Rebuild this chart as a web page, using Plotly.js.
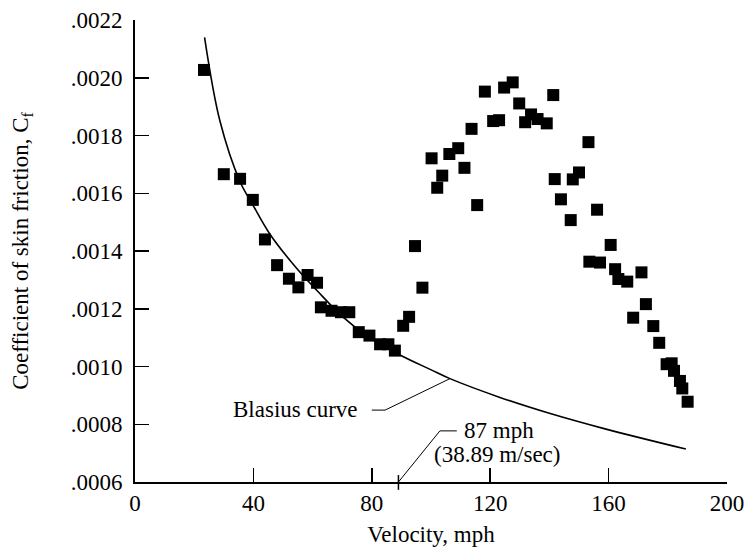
<!DOCTYPE html>
<html>
<head>
<meta charset="utf-8">
<script src="https://cdn.plot.ly/plotly-3.0.1.min.js"></script>
<style>
  html, body { margin: 0; padding: 0; background: #ffffff; }
  #chart { width: 750px; height: 555px; }
</style>
</head>
<body>
<div id="chart"></div>
<script>
// Measured skin-friction data (velocity in mph, Cf)
const velocity = [
  23.3, 30.0, 35.5, 39.8, 43.9, 48.0, 52.0, 55.2, 58.3, 61.5,
  62.8, 66.4, 69.6, 72.4, 75.6, 79.2, 82.8, 85.6, 87.8, 90.6,
  92.6, 94.6, 97.1, 100.2, 102.1, 103.8, 106.2, 109.2, 111.3, 113.7,
  115.6, 118.2, 121.0, 123.0, 124.7, 127.6, 129.8, 131.8, 133.8, 136.0,
  139.1, 141.3, 141.8, 143.9, 147.2, 147.9, 150.0, 153.2, 153.5, 156.1,
  157.1, 160.7, 162.2, 163.3, 166.3, 168.3, 171.1, 172.6, 175.1, 177.1,
  179.6, 181.3, 182.1, 184.1, 184.9, 186.7
];
const skinFriction = [
  0.002027, 0.001666, 0.001650, 0.001577, 0.001440, 0.001351, 0.001304, 0.001274, 0.001317, 0.001290,
  0.001205, 0.001193, 0.001188, 0.001188, 0.001119, 0.001107, 0.001077, 0.001077, 0.001055, 0.001141,
  0.001172, 0.001417, 0.001273, 0.001721, 0.001619, 0.001661, 0.001736, 0.001756, 0.001688, 0.001823,
  0.001559, 0.001952, 0.001850, 0.001853, 0.001966, 0.001984, 0.001911, 0.001846, 0.001873, 0.001857,
  0.001842, 0.001940, 0.001649, 0.001579, 0.001507, 0.001648, 0.001672, 0.001777, 0.001363, 0.001543,
  0.001360, 0.001421, 0.001337, 0.001303, 0.001294, 0.001169, 0.001326, 0.001216, 0.001140, 0.001082,
  0.001008, 0.001011, 0.000985, 0.000950, 0.000924, 0.000878
];

// Blasius curve
const blasiusVelocity = [23.5, 28.7, 35.5, 39.8, 45.6, 54.6, 61.4, 70.4, 79.4, 89.5, 99.7, 106.4, 123.3, 140.0, 158.8, 186.1];
const blasiusCf = [0.00214, 0.00185, 0.00164, 0.00156, 0.001458, 0.00134, 0.001264, 0.00117, 0.001098, 0.00104, 0.00099, 0.000958, 0.000893, 0.000838, 0.000784, 0.000714];

// Tick labels
const xTickVals = [0, 40, 80, 120, 160, 200];
const xTickText = ['0', '40', '80', '120', '160', '200'];
const yTickVals = [0.0006, 0.0008, 0.0010, 0.0012, 0.0014, 0.0016, 0.0018, 0.0020, 0.0022];
const yTickText = ['.0006', '.0008', '.0010', '.0012', '.0014', '.0016', '.0018', '.0020', '.0022'];

// Annotation anchors
const transitionVelocity = 89;

const serif = 'Liberation Serif, Times New Roman, serif';
const fontSize = 23;
const txt = { family: serif, size: fontSize, color: '#000' };

const traces = [
  {
    x: blasiusVelocity, y: blasiusCf,
    type: 'scatter', mode: 'lines',
    line: { color: '#000', width: 1.6, shape: 'spline', smoothing: 1 },
    hoverinfo: 'skip', showlegend: false
  },
  {
    x: velocity, y: skinFriction,
    type: 'scatter', mode: 'markers',
    marker: { symbol: 'square', size: 12, color: '#000', line: { width: 0 } },
    showlegend: false
  }
];

const axisCommon = {
  showline: true, linecolor: '#000', linewidth: 1.8,
  ticks: 'inside', ticklen: 14, tickwidth: 1.5, tickcolor: '#000',
  showgrid: false, zeroline: false,
  tickfont: txt
};

const layout = {
  width: 750, height: 555,
  margin: { l: 135, r: 23, t: 20, b: 73 },
  paper_bgcolor: '#fff', plot_bgcolor: '#fff',
  font: txt,
  showlegend: false,
  xaxis: Object.assign({}, axisCommon, {
    range: [0, 200],
    tickmode: 'array', tickvals: xTickVals, ticktext: xTickText,
    title: { text: 'Velocity, mph', font: txt, standoff: 10 }
  }),
  yaxis: Object.assign({}, axisCommon, {
    range: [0.0006, 0.0022],
    tickmode: 'array', tickvals: yTickVals, ticktext: yTickText,
    ticklabelstandoff: 6,
    title: { text: 'Coefficient of skin friction, C<sub>f</sub>', font: txt, standoff: 36 }
  }),
  shapes: [
    // Blasius curve leader
    { type: 'line', xref: 'x', yref: 'y', x0: 80.0, y0: 0.000849, x1: 84.5, y1: 0.000849, line: { color: '#000', width: 1 } },
    { type: 'line', xref: 'x', yref: 'y', x0: 84.5, y0: 0.000849, x1: 106.4, y1: 0.000958, line: { color: '#000', width: 1 } },
    // 87 mph leader
    { type: 'line', xref: 'x', yref: 'y', x0: 108.7, y0: 0.000777, x1: 103.0, y1: 0.000777, line: { color: '#000', width: 1 } },
    { type: 'line', xref: 'x', yref: 'y', x0: 103.0, y0: 0.000777, x1: transitionVelocity, y1: 0.0006, line: { color: '#000', width: 1 } },
    { type: 'line', xref: 'x', yref: 'paper', x0: transitionVelocity, y0: -0.017, x1: transitionVelocity, y1: 0.015, line: { color: '#000', width: 1.5 } }
  ],
  annotations: [
    { text: 'Blasius curve', x: 76.0, y: 0.00085, xref: 'x', yref: 'y', xanchor: 'right', yanchor: 'middle', showarrow: false, font: txt },
    { text: '87 mph', x: 110.5, y: 0.000777, xref: 'x', yref: 'y', xanchor: 'left', yanchor: 'middle', showarrow: false, font: txt },
    { text: '(38.89 m/sec)', x: 100.4, y: 0.000694, xref: 'x', yref: 'y', xanchor: 'left', yanchor: 'middle', showarrow: false, font: txt }
  ]
};

Plotly.newPlot('chart', traces, layout, { displayModeBar: false, staticPlot: true });
</script>
</body>
</html>
